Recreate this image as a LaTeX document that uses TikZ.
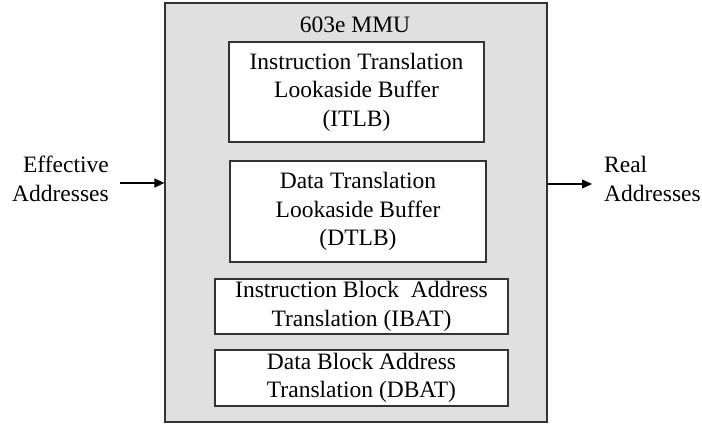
\documentclass[tikz,border=0pt]{standalone}
\usepackage{fontspec}
\setmainfont{Liberation Serif}
\usetikzlibrary{arrows.meta}
\begin{document}
\begin{tikzpicture}[x=1pt, y=-1pt,
    every node/.style={font=\fontsize{23.5}{28.5}\selectfont, inner sep=0pt, align=center},
    unit/.style={draw=black!80, line width=1.2pt, fill=white},
    arr/.style={line width=1.2pt, -{Triangle[length=10pt,width=9pt]}}]
  \useasboundingbox (0,0) rectangle (702,426);
  \node [draw=black!80, line width=1.2pt, fill=black!12, minimum width=382pt, minimum height=419pt] (mmu) at (356,212.5) {};
  \node (title) at (355,25) {603e MMU};
  \node [unit, minimum width=255pt, minimum height=100pt] (itlb) at (356.5,92) {Instruction Translation\\Lookaside Buffer\\(ITLB)};
  \node [unit, minimum width=256pt, minimum height=101pt] (dtlb) at (358,211.5) {Data Translation\\Lookaside Buffer\\(DTLB)};
  \node [unit, minimum width=293pt, minimum height=55pt] (ibat) at (361.5,306.5) {Instruction Block\ \ Address\\Translation (IBAT)};
  \node [unit, minimum width=293pt, minimum height=56pt] (dbat) at (361.5,378) {Data Block Address\\Translation (DBAT)};
  \node [anchor=east, align=right] (ea) at (109,179) {Effective\\Addresses};
  \node [anchor=west, align=left] (ra) at (604,179) {Real\\Addresses};
  \coordinate (ein) at (120,183);
  \coordinate (rout) at (592,184);
  \draw [arr] (ein) -- (ein -| mmu.west);
  \draw [arr] (rout -| mmu.east) -- (rout);
\end{tikzpicture}
\end{document}
